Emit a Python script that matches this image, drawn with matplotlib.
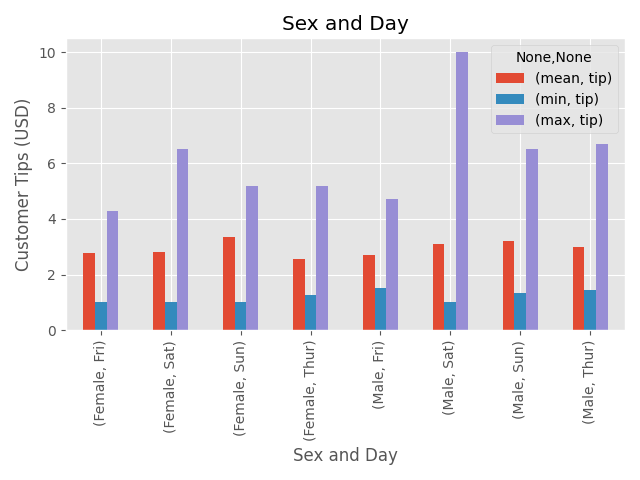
import matplotlib
matplotlib.use('Agg')
import matplotlib.pyplot as plt
import numpy as np

plt.style.use('ggplot')

categories = ['(Female, Fri)', '(Female, Sat)', '(Female, Sun)', '(Female, Thur)',
              '(Male, Fri)', '(Male, Sat)', '(Male, Sun)', '(Male, Thur)']
mean_tip = [2.781, 2.802, 3.367, 2.576, 2.693, 3.084, 3.220, 2.980]
min_tip = [1.00, 1.00, 1.01, 1.25, 1.50, 1.00, 1.32, 1.44]
max_tip = [4.30, 6.50, 5.20, 5.17, 4.73, 10.00, 6.50, 6.70]
series = [('(mean, tip)', mean_tip), ('(min, tip)', min_tip), ('(max, tip)', max_tip)]

fig, ax = plt.subplots(figsize=(6.4, 4.8), dpi=100)
x = np.arange(len(categories))
w = 0.5 / 3
colors = ['#E24A33', '#348ABD', '#988ED5']
for i, (name, vals) in enumerate(series):
    ax.bar(x + (i - 1) * w, vals, w, label=name, color=colors[i])

ax.set_xticks(x)
ax.set_xticklabels(categories, rotation=90)
ax.set_xlim(-0.5, len(categories) - 0.5)
ax.set_title('Sex and Day')
ax.set_xlabel('Sex and Day')
ax.set_ylabel('Customer Tips (USD)')
ax.legend(title='None,None')

plt.tight_layout()
plt.savefig('out.png')
